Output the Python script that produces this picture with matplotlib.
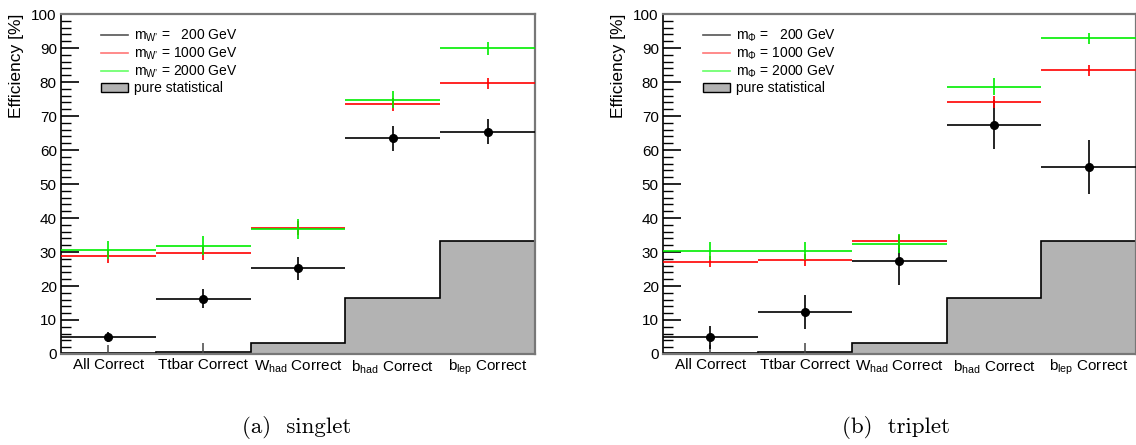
import numpy as np
import matplotlib
matplotlib.use("Agg")
import matplotlib.pyplot as plt
from matplotlib.lines import Line2D
from matplotlib.patches import Patch

plt.rcParams['font.family'] = ['Liberation Sans', 'DejaVu Sans']
plt.rcParams['mathtext.fontset'] = 'custom'
plt.rcParams['mathtext.rm'] = 'Liberation Sans'
plt.rcParams['mathtext.it'] = 'Liberation Sans:italic'
plt.rcParams['mathtext.bf'] = 'Liberation Sans:bold'

categories = ["All Correct", "Ttbar Correct", r"W$_{\mathrm{had}}$ Correct",
              r"b$_{\mathrm{had}}$ Correct", r"b$_{\mathrm{lep}}$ Correct"]

stat_vals = [0.3, 0.7, 3.2, 16.6, 33.3]
stat_errs = [2.3, 2.5, 0.0, 0.0, 0.0]

# singlet
s_200 = [5.0, 16.3, 25.2, 63.5, 65.4]
s_200_err = [1.6, 2.8, 3.3, 3.7, 3.7]
s_1000 = [28.8, 29.6, 37.0, 73.4, 79.6]
s_1000_err = [1.9, 2.0, 2.0, 1.8, 1.6]
s_2000 = [30.5, 31.9, 36.7, 74.8, 89.9]
s_2000_err = [2.7, 2.7, 3.0, 2.5, 2.0]

# triplet
t_200 = [4.9, 12.4, 27.5, 67.4, 55.0]
t_200_err = [3.3, 5.1, 7.1, 7.2, 7.8]
t_1000 = [27.2, 27.6, 33.1, 74.2, 83.4]
t_1000_err = [1.7, 1.8, 1.8, 1.7, 1.5]
t_2000 = [30.3, 30.3, 32.5, 78.6, 92.8]
t_2000_err = [2.7, 2.7, 2.8, 2.5, 1.5]

yticks = [0, 10, 20, 30, 40, 50, 60, 70, 80, 90, 100]

fig = plt.figure(figsize=(11.36, 4.45), dpi=100)

def panel(ax, v200, e200, v1000, e1000, v2000, e2000, sub):
    n = len(categories)
    edges = np.arange(n + 1)
    centers = edges[:-1] + 0.5
    ax.stairs(stat_vals, edges, fill=True, color='#b3b3b3', zorder=1)
    ax.stairs(stat_vals, edges, baseline=None, color='black', lw=1.2, zorder=2)
    ax.errorbar(centers, stat_vals, yerr=stat_errs, fmt='none', ecolor='#444444',
                elinewidth=1.1, zorder=2)
    ax.errorbar(centers, v200, xerr=0.5, yerr=e200, fmt='o', color='black',
                ms=5.5, elinewidth=1.2, capsize=0, zorder=3)
    ax.errorbar(centers, v1000, xerr=0.5, yerr=e1000, fmt='none', ecolor='#ff0000',
                elinewidth=1.2, capsize=0, zorder=4)
    ax.errorbar(centers, v2000, xerr=0.5, yerr=e2000, fmt='none', ecolor='#00ee00',
                elinewidth=1.2, capsize=0, zorder=5)
    ax.set_xlim(0, n)
    ax.set_ylim(0, 100)
    ax.set_xticks(centers)
    ax.set_xticklabels(categories, fontsize=11)
    ax.tick_params(axis='x', length=0, pad=3)
    ax.set_yticks(yticks)
    ax.set_yticks(np.arange(0, 101, 2), minor=True)
    ax.tick_params(axis='y', which='major', direction='in', length=13, width=1.2,
                   labelsize=11, pad=3)
    ax.tick_params(axis='y', which='minor', direction='in', length=7, width=1.0)
    ax.set_ylabel("Efficiency [%]", fontsize=12.5, loc='top', labelpad=5)
    for s in ['top', 'right', 'bottom']:
        ax.spines[s].set_color('#777777')
        ax.spines[s].set_linewidth(1.6)
    ax.spines['left'].set_color('black')
    ax.spines['left'].set_linewidth(1.2)
    handles = [Line2D([], [], color='#555555', lw=1.2),
               Line2D([], [], color='#ff7777', lw=1.2),
               Line2D([], [], color='#66ff66', lw=1.2),
               Patch(facecolor='#b3b3b3', edgecolor='black', lw=1.0)]
    labels = [r"m$_{%s}$ =   200 GeV" % sub, r"m$_{%s}$ = 1000 GeV" % sub,
              r"m$_{%s}$ = 2000 GeV" % sub, "pure statistical"]
    ax.legend(handles, labels, loc='upper left', bbox_to_anchor=(0.072, 0.975),
              frameon=False, fontsize=10, handlelength=2.0, handletextpad=0.4,
              labelspacing=0.1, borderaxespad=0)

ax1 = fig.add_axes([0.0537, 0.2045, 0.4173, 0.764])
panel(ax1, s_200, s_200_err, s_1000, s_1000_err, s_2000, s_2000_err,
      "\\mathrm{W\u2019}")
ax2 = fig.add_axes([0.5836, 0.2045, 0.4164, 0.764])
panel(ax2, t_200, t_200_err, t_1000, t_1000_err, t_2000, t_2000_err, r"\Phi")

fig.text(0.261, 0.04, "(a)  singlet", family='cmr10', fontsize=16.5, ha='center', va='center')
fig.text(0.789, 0.04, "(b)  triplet", family='cmr10', fontsize=16.5, ha='center', va='center')

fig.savefig("out.png", dpi=100)
